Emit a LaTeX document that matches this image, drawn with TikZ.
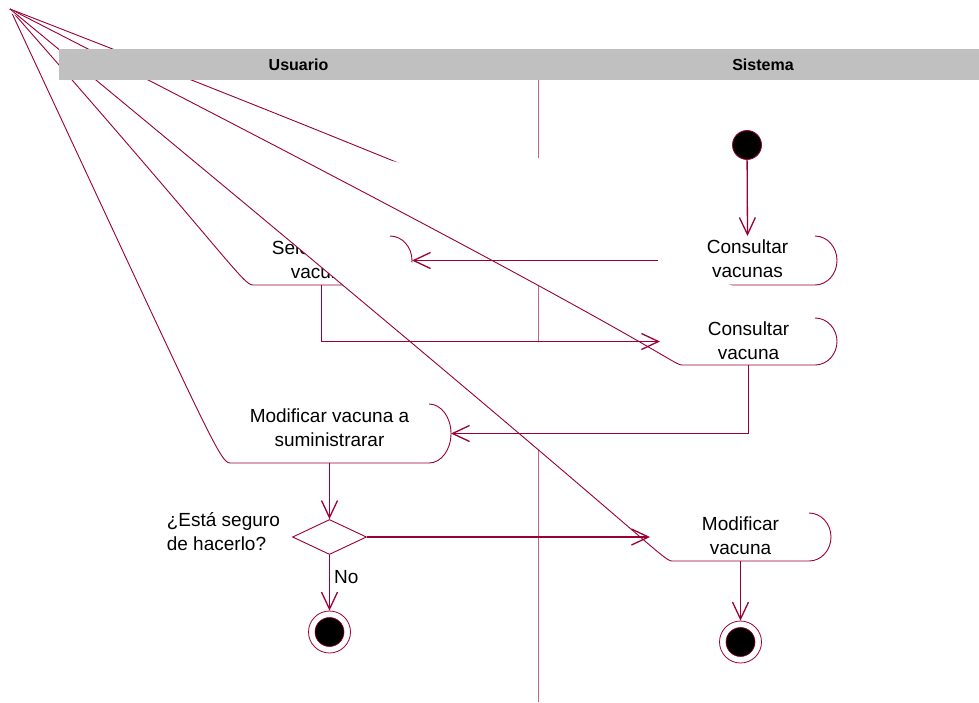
\documentclass[tikz,border=0pt]{standalone}
\usepackage{fontspec}
\setmainfont{Liberation Sans}
\usetikzlibrary{arrows.meta,calc,positioning,shapes.geometric}
\definecolor{umlred}{HTML}{990033}
\definecolor{lanegray}{HTML}{C0C0C0}
\tikzset{
  acttext/.style={align=center,inner sep=0pt,font=\fontsize{19}{24}\selectfont,text=black},
  actline/.style={draw=umlred,line width=0.9pt},
  flow/.style={-{Straight Barb[length=17pt,width=16pt,line width=1.3pt]},line width=1.3pt,draw=umlred},
  lanelabel/.style={font=\bfseries\fontsize{16}{18}\selectfont,inner sep=0pt},
  startdot/.style={circle,fill=black,draw=umlred,line width=0.8pt,minimum size=29pt,inner sep=0pt},
  enddot/.style={circle,draw=umlred,line width=0.8pt,minimum size=42pt,inner sep=0pt,
    path picture={\fill[black,draw=umlred,line width=0.6pt] (path picture bounding box.center) circle (14.5pt);}},
  decision/.style={diamond,aspect=2.1,draw=umlred,line width=0.9pt,fill=white,
    minimum width=74pt,minimum height=35pt,inner sep=0pt}
}

\begin{document}
\begin{tikzpicture}[x=1pt,y=-1pt]
  \useasboundingbox (0,0) rectangle (979,702);
  \coordinate (apex) at (10,9);

  % lane divider
  \draw[umlred!60,line width=1pt] (538,80) -- (538,702);

  % activities (left corner collapsed into the apex)
  \foreach \n/\xl/\xr/\yt/\yb/\ty/\cl/\txt in {
      ms/230/429/404/463/428/{(10,9)}/{Modificar vacuna a\\suministrarar},
      se/253/390/236/285/260/{(10,9)}/{Seleccionar\\vacuna},
      cvs/680/815/236/285/259/{(10,9)}/{Consultar\\vacunas},
      cv/682/815/318/365/341/{(440,172) -- (390,160.5) -- (10,13)}/{Consultar\\vacuna},
      mv/672/809/513/561/536/{(10,9)}/{Modificar\\vacuna}}{
    \pgfmathsetmacro\ym{(\yt+\yb)/2}
    \pgfmathsetmacro\ky{0.5523*(\yb-\yt)/2}
    \pgfmathsetmacro\xm{(\xl+\xr)/2}
    \pgfmathsetmacro\lx{\xl-22}
    \fill[white] (apex) .. controls (\lx,\ym) and (\xl-10,\yb) .. (\xl,\yb) -- (\xr,\yb)
      .. controls (\xr+12.15,\yb) and (\xr+22,\ym+\ky) .. (\xr+22,\ym)
      .. controls (\xr+22,\ym-\ky) and (\xr+12.15,\yt) .. (\xr,\yt) -- \cl -- cycle;
    \draw[actline] (apex) .. controls (\lx,\ym) and (\xl-10,\yb) .. (\xl,\yb) -- (\xr,\yb)
      .. controls (\xr+12.15,\yb) and (\xr+22,\ym+\ky) .. (\xr+22,\ym)
      .. controls (\xr+22,\ym-\ky) and (\xr+12.15,\yt) .. (\xr,\yt);
    \node[acttext] (\n) at (\xm,\ty) {\txt};
    \coordinate (\n-l) at (\lx,\ym);
    \coordinate (\n-r) at (\xr+22,\ym);
    \coordinate (\n-t) at (\xm,\yt);
    \coordinate (\n-b) at (\xm,\yb);
  }

  % start, decision, ends
  \node[startdot] (start) at (747,145) {};
  \node[decision] (dec) at (329.5,537) {};
  \node[acttext,anchor=east,align=left] (ask) at ([xshift=-12pt,yshift=5pt]dec.west) {¿Está seguro\\de hacerlo?};
  \node[enddot] (end1) at (329.5,632) {};
  \node[enddot] (end2) at (740.5,642) {};

  % transitions
  \draw[flow] (start) -- (cvs-t);
  \draw[flow] (cvs-l) -- (se-r);
  \draw[flow] (se-b) |- (cv-l);
  \draw[flow] (cv-b) |- (ms-r);
  \draw[flow] (ms-b) -- (ms-b |- dec.north);
  \draw[flow] (dec) -- (mv-l);
  \draw[flow] (dec) -- node[acttext,right=4pt,pos=0.4] (no) {No} (end1);
  \draw[flow] (mv-b) -- (end2);

  % swimlane header
  \fill[lanegray] (59,49) rectangle (979,80);
  \node[lanelabel] (usuario) at (298.5,64.5) {Usuario};
  \node[lanelabel] (sistema) at (763,64.5) {Sistema};
\end{tikzpicture}
\end{document}
